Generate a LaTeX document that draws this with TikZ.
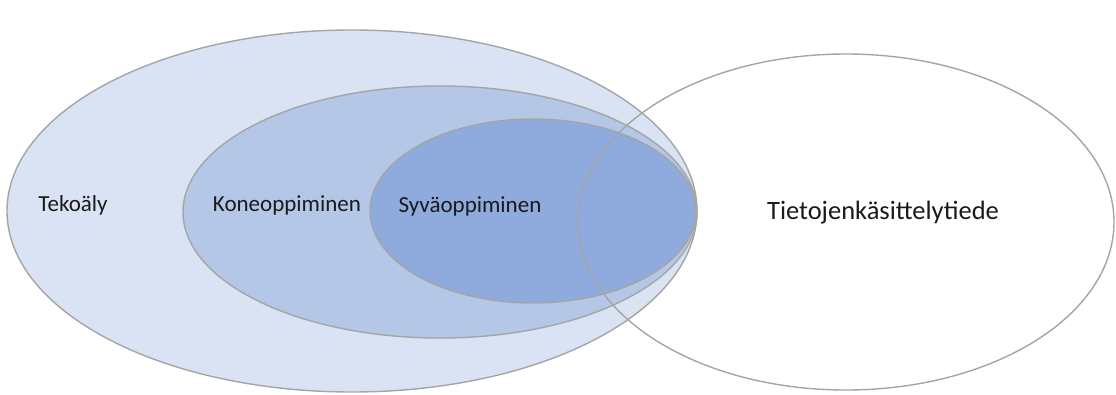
\documentclass[tikz,border=0pt]{standalone}
\usepackage{fontspec}
\setmainfont{Carlito}
\usepackage{xcolor}
\usepackage{tikz}
\usetikzlibrary{positioning}
\definecolor{aiblue}{HTML}{DAE3F3}
\definecolor{mlblue}{HTML}{B4C7E7}
\definecolor{dlblue}{HTML}{8FAADC}
\definecolor{rimgray}{HTML}{A5A5A5}
\definecolor{labeltext}{HTML}{1A1A1A}

\begin{document}
\begin{tikzpicture}[x=1pt,y=-1pt,
  rim/.style={draw=rimgray, line width=1.4pt},
  lbl/.style={text=labeltext, inner sep=0pt, font=\fontsize{23}{27}\selectfont}]
\fill[white] (0,0) rectangle (1116,394);
\useasboundingbox (0,0) rectangle (1116,394);
% nested sets
\filldraw[rim, fill=aiblue] (352,211) ellipse (345 and 181);
\filldraw[rim, fill=mlblue] (440,212) ellipse (257 and 126);
\filldraw[rim, fill=dlblue] (533,211) ellipse (163 and 92);
% data science
\draw[rim] (846,222) ellipse (268 and 168);
\node[lbl] (ai) at (73,205) {Tekoäly};
\node[lbl] (ml) at (287,205) {Koneoppiminen};
\node[lbl] (dl) at (470,206) {Syväoppiminen};
\node[lbl, font=\fontsize{26.5}{30}\selectfont] (ds) at (883,213) {Tietojenkäsittelytiede};
\end{tikzpicture}
\end{document}
